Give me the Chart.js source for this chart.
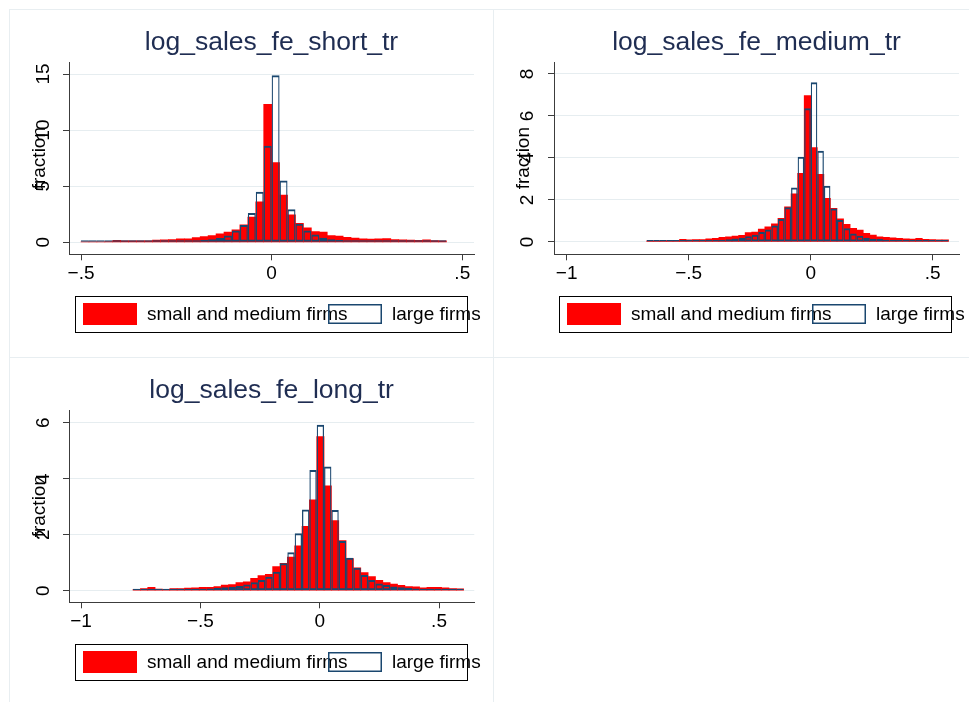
<!DOCTYPE html>
<html>
<head>
<meta charset="utf-8">
<script src="https://cdn.jsdelivr.net/npm/chart.js@4.4.0/dist/chart.umd.min.js"></script>
<style>
  html, body { margin: 0; padding: 0; background: #fff; overflow: hidden; }
  body { width: 969px; height: 702px; position: relative; }
  canvas { position: absolute; }
  .rule { position: absolute; background: #e8eef1; }
</style>
</head>
<body>
<canvas id="short" width="484" height="348" style="left:9px;top:9px"></canvas>
<canvas id="medium" width="484" height="348" style="left:493px;top:9px"></canvas>
<canvas id="long" width="484" height="348" style="left:9px;top:357px"></canvas>
<div class="rule" style="left:9px;top:9px;width:960px;height:1px"></div>
<div class="rule" style="left:9px;top:9px;width:1px;height:693px"></div>
<div class="rule" style="left:493px;top:9px;width:1px;height:693px"></div>
<div class="rule" style="left:9px;top:357px;width:960px;height:1px"></div>
<script>
// Histogram heights (fraction), one value per bin
const titles = ['log_sales_fe_short_tr', 'log_sales_fe_medium_tr', 'log_sales_fe_long_tr'];
const groupLabels = ['small and medium firms', 'large firms'];

// first bin edge and bin width for each variable
const shortBins = [-0.5, 0.020833];
const mediumBins = [-0.672, 0.02689];
const longBins = [-0.782, 0.03078];

const shortSmall = [0.05, 0.05, 0.05, 0.06, 0.18, 0.12, 0.12, 0.13, 0.14, 0.2,
  0.22, 0.25, 0.3, 0.32, 0.42, 0.5, 0.6, 0.75, 0.9, 1.1,
  1.55, 2.25, 3.6, 12.3, 7.1, 4.2, 2.45, 1.7, 1.3, 0.95,
  0.9, 0.6, 0.55, 0.45, 0.38, 0.32, 0.28, 0.3, 0.33, 0.25,
  0.22, 0.2, 0.18, 0.22, 0.15, 0.12];
const shortLarge = [0.04, 0.03, 0.04, 0.04, 0.05, 0.05, 0.05, 0.06, 0.06, 0.07,
  0.08, 0.09, 0.1, 0.12, 0.15, 0.2, 0.27, 0.38, 0.6, 1.05,
  1.55, 2.6, 4.5, 8.6, 14.9, 5.5, 2.95, 1.65, 1.05, 0.7,
  0.4, 0.28, 0.2, 0.15, 0.12, 0.1, 0.08, 0.07, 0.06, 0.06,
  0.05, 0.05, 0.04, 0.04, 0.04, 0.03];

const mediumSmall = [0.05, 0.06, 0.06, 0.07, 0.08, 0.13, 0.1, 0.11, 0.12, 0.15,
  0.17, 0.22, 0.24, 0.28, 0.32, 0.45, 0.47, 0.62, 0.72, 0.87,
  1.13, 1.68, 2.29, 3.27, 6.97, 4.5, 3.22, 2.08, 1.6, 1.1,
  0.84, 0.65, 0.57, 0.41, 0.33, 0.25, 0.22, 0.2, 0.17, 0.15,
  0.14, 0.18, 0.13, 0.12, 0.1, 0.1];
const mediumLarge = [0.03, 0.03, 0.03, 0.04, 0.04, 0.04, 0.05, 0.05, 0.06, 0.06,
  0.08, 0.1, 0.13, 0.17, 0.2, 0.27, 0.35, 0.48, 0.6, 0.78,
  1.1, 1.65, 2.59, 4.06, 6.37, 7.6, 4.35, 2.68, 1.6, 1.05,
  0.65, 0.41, 0.3, 0.2, 0.16, 0.14, 0.11, 0.09, 0.08, 0.07,
  0.06, 0.05, 0.05, 0.04, 0.04, 0.04];

const longSmall = [0.05, 0.08, 0.12, 0.06, 0.05, 0.08, 0.08, 0.09, 0.1, 0.12,
  0.12, 0.15, 0.2, 0.22, 0.29, 0.32, 0.44, 0.54, 0.58, 0.86,
  0.98, 1.2, 1.6, 2.3, 3.24, 5.5, 3.74, 2.5, 1.79, 1.15,
  0.82, 0.65, 0.5, 0.37, 0.29, 0.24, 0.19, 0.15, 0.14, 0.1,
  0.12, 0.12, 0.1, 0.08, 0.07];
const longLarge = [0.03, 0.03, 0.03, 0.04, 0.04, 0.05, 0.05, 0.06, 0.06, 0.07,
  0.08, 0.1, 0.12, 0.14, 0.17, 0.22, 0.3, 0.38, 0.5, 0.68,
  0.98, 1.37, 2.05, 2.9, 4.31, 5.92, 4.43, 2.88, 1.77, 1.18,
  0.82, 0.56, 0.38, 0.26, 0.2, 0.15, 0.12, 0.1, 0.08, 0.07,
  0.06, 0.05, 0.05, 0.04, 0.04];

const shortXTicks = [-0.5, 0, 0.5];
const longXTicks = [-1, -0.5, 0, 0.5];
const shortYTicks = [0, 5, 10, 15];
const mediumYTicks = [0, 2, 4, 6, 8];
const longYTicks = [0, 2, 4, 6];

// ---- styling ----
const FONT = "'Liberation Sans', Arial, Helvetica, sans-serif";
const RED = '#ff0000';
const NAVY = '#1a476f';
const AXIS = '#3c3c3c';
const GRID = '#e6edf0';

// Stata style numbers: .5, -1 with a real minus
function stataNum(v) {
    if (v === 0) return '0';
    const s = String(Math.abs(v)).replace(/^0\./, '.');
    return (v < 0 ? '\u2212' : '') + s;
}

// bordered legend box like Stata draws it under each plot
const stataLegend = {
    id: 'stataLegend',
    afterDraw(chart) {
        const ctx = chart.ctx;
        const ds = chart.data.datasets;
        ctx.save();
        ctx.strokeStyle = '#000';
        ctx.lineWidth = 1;
        ctx.strokeRect(66.5, 287.5, 392, 36);
        ctx.fillStyle = ds[0].backgroundColor;
        ctx.fillRect(74, 294, 54, 22);
        ctx.font = '19px ' + FONT;
        ctx.fillStyle = '#000';
        ctx.textBaseline = 'middle';
        ctx.fillText(ds[0].label, 138, 306);
        ctx.strokeStyle = ds[1].borderColor;
        ctx.lineWidth = 1.5;
        ctx.strokeRect(319.75, 295.75, 52.5, 18.5);
        ctx.fillStyle = '#000';
        ctx.fillText(ds[1].label, 383, 306);
        ctx.restore();
    }
};

function toPoints(bins, values) {
    return values.map((v, i) => ({ x: bins[0] + (i + 0.5) * bins[1], y: v }));
}

function makeHistogram(id, title, bins, small, large, xTicks, yTicks, view) {
    const tickFont = { family: FONT, size: 19 };
    return new Chart(document.getElementById(id), {
        type: 'bar',
        data: {
            datasets: [{
                label: groupLabels[0],
                data: toPoints(bins, small),
                xAxisID: 'x',
                backgroundColor: RED,
                borderWidth: 0,
                order: 2
            }, {
                label: groupLabels[1],
                data: toPoints(bins, large),
                xAxisID: 'x2',
                backgroundColor: 'rgba(0,0,0,0)',
                borderColor: NAVY,
                borderWidth: { top: 2, bottom: 2, left: 1.25, right: 1.25 },
                borderSkipped: false,
                inflateAmount: 0,
                minBarLength: 2,
                order: 1
            }]
        },
        options: {
            responsive: false,
            animation: false,
            devicePixelRatio: 1,
            layout: { padding: { left: 0, top: 0, right: 484 - view.plotRight, bottom: 62.7 } },
            datasets: { bar: { grouped: false, categoryPercentage: 1, barPercentage: 1 } },
            plugins: {
                legend: { display: false },
                tooltip: { enabled: false },
                title: {
                    display: true,
                    text: title,
                    fullSize: false,
                    color: '#1f2d52',
                    font: { family: FONT, size: 26.5, weight: 'normal' },
                    padding: { top: 17.9, bottom: 3.3 }
                }
            },
            scales: {
                x: {
                    type: 'linear',
                    offset: false,
                    min: view.xMin,
                    max: view.xMax,
                    afterBuildTicks: s => { s.ticks = xTicks.map(v => ({ value: v })); },
                    afterFit: s => { s.height = 40; },
                    grid: { offset: false, drawOnChartArea: false, tickLength: 6, tickColor: AXIS, tickWidth: 1 },
                    border: { color: AXIS, width: 1 },
                    ticks: {
                        color: '#000', font: tickFont, padding: 2,
                        minRotation: 0, maxRotation: 0, autoSkip: false,
                        callback: v => stataNum(v)
                    }
                },
                x2: {
                    type: 'linear', offset: false, grid: { offset: false },
                    min: view.xMin, max: view.xMax, display: false
                },
                y: {
                    type: 'linear',
                    min: view.yMin,
                    max: view.yMax,
                    afterBuildTicks: s => { s.ticks = yTicks.map(v => ({ value: v })); },
                    afterFit: s => { s.width = view.plotLeft; },
                    grid: { color: GRID, lineWidth: 1, tickLength: 6, tickColor: AXIS, tickWidth: 1 },
                    border: { color: AXIS, width: 1 },
                    ticks: {
                        color: '#000', font: tickFont, padding: view.yPad,
                        minRotation: 90, maxRotation: 90, crossAlign: 'center',
                        callback: v => stataNum(v)
                    },
                    title: {
                        display: true, text: 'fraction', color: '#000',
                        font: { family: FONT, size: 19 },
                        padding: { top: 19.6, bottom: 0 }
                    }
                }
            }
        },
        plugins: [stataLegend]
    });
}

makeHistogram('short', titles[0], shortBins, shortSmall, shortLarge, shortXTicks, shortYTicks,
    { xMin: -0.5315, xMax: 0.5307, yMin: -1.07, yMax: 16.07, plotLeft: 60, plotRight: 465, yPad: 8.4 });
makeHistogram('medium', titles[1], mediumBins, mediumSmall, mediumLarge, longXTicks, mediumYTicks,
    { xMin: -1.052, xMax: 0.6078, yMin: -0.586, yMax: 8.57, plotLeft: 61, plotRight: 466, yPad: 14.7 });
makeHistogram('long', titles[2], longBins, longSmall, longLarge, longXTicks, longYTicks,
    { xMin: -1.0503, xMax: 0.6477, yMin: -0.414, yMax: 6.45, plotLeft: 60, plotRight: 465.3, yPad: 13.7 });
</script>
</body>
</html>
